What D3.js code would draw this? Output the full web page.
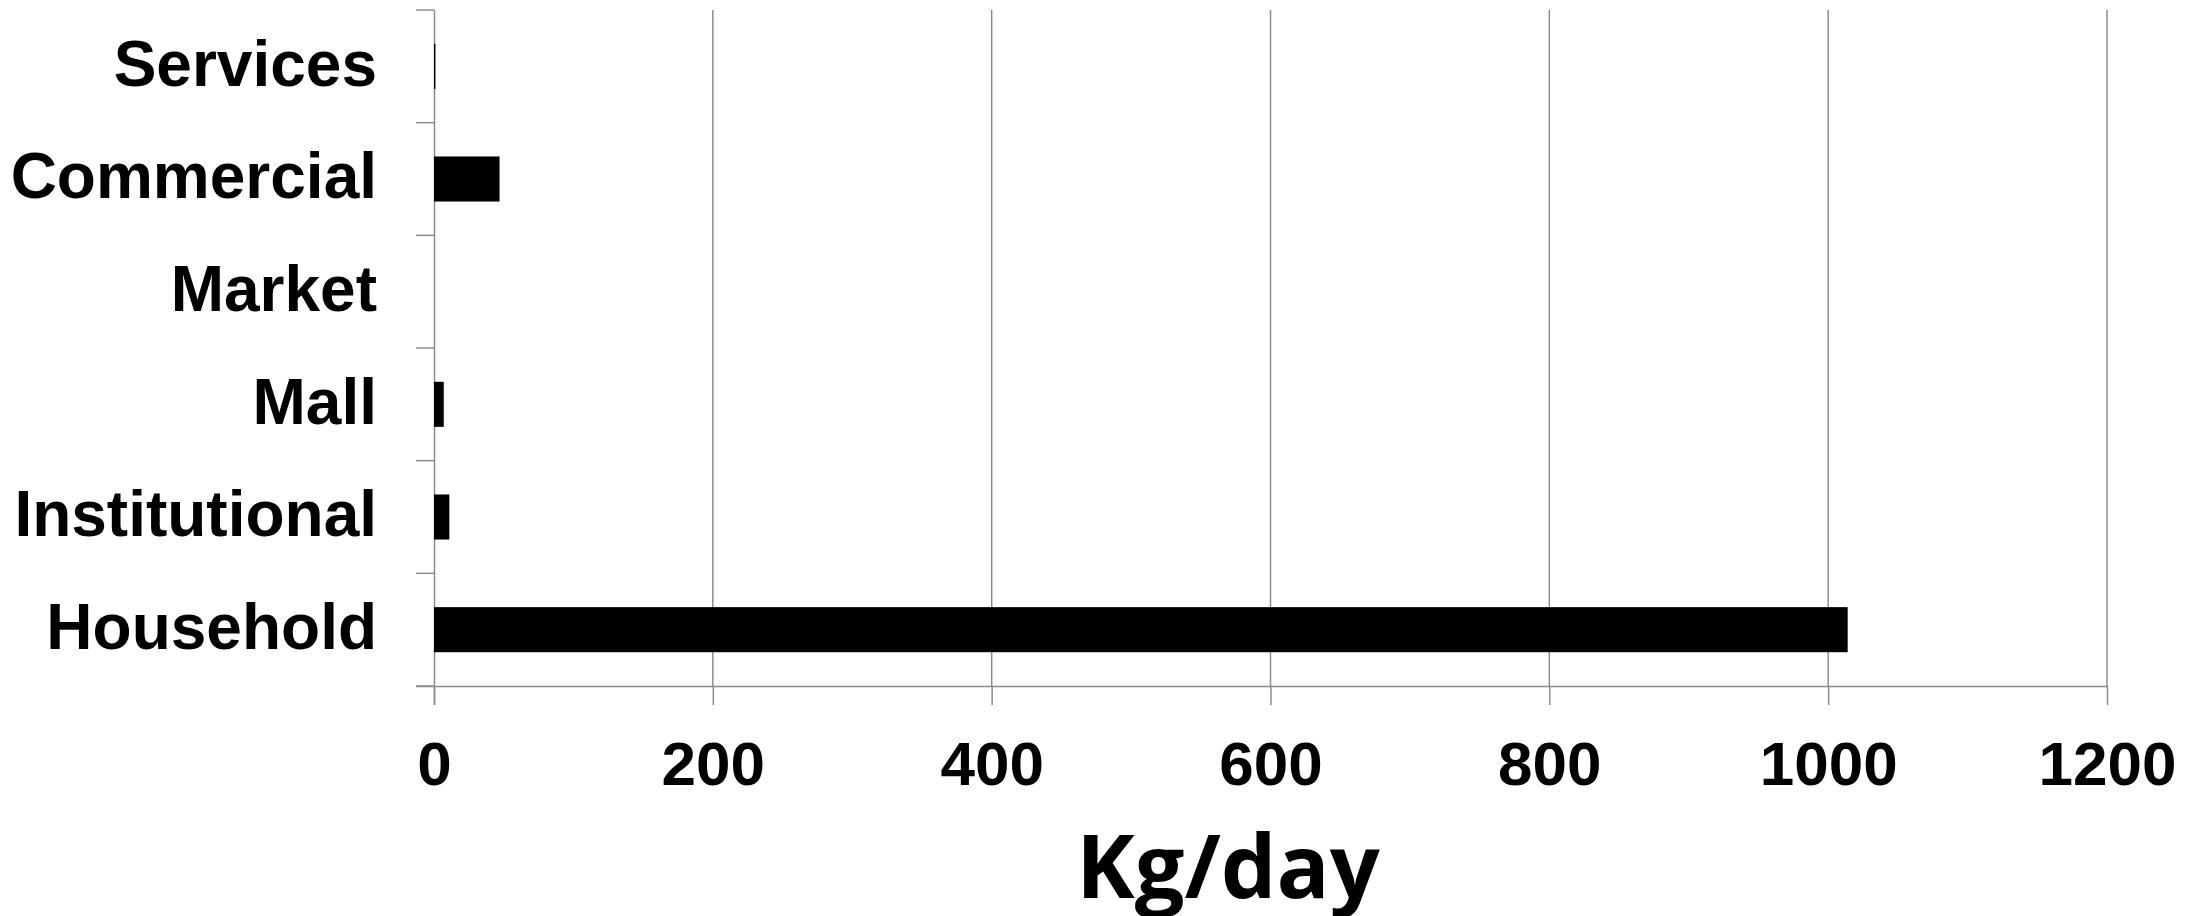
<!DOCTYPE html>
<html>
<head>
  <script src="https://d3js.org/d3.v7.min.js"></script>
  <title>Kg/day by source</title>
  <style>
    body { margin: 0; background: #fff; }
    .lbl { font-family: "Liberation Sans", Arial, sans-serif; font-weight: bold; font-size: 62px; fill: #000; }
    .cat { font-size: 64px; }
  </style>
</head>
<body>
  <div id="myDiv"></div>
  <script>
    // categories top -> bottom, and their values (kg/day)
    const categories = ["Services", "Commercial", "Market", "Mall", "Institutional", "Household"];
    const values = [1, 47, 0, 7, 11, 1014];
    const xTicks = [0, 200, 400, 600, 800, 1000, 1200];
    const axisTitle = "Kg/day";

    const W = 2208, H = 916;
    const plotLeft = 434, plotRight = 2107, plotTop = 10, plotBottom = 686;
    const gridColor = "#8c8c8c";

    const svg = d3.select("#myDiv")
      .append("svg")
        .attr("width", W)
        .attr("height", H);

    const x = d3.scaleLinear()
      .domain([0, 1200])
      .range([plotLeft, plotRight]);

    const y = d3.scaleBand()
      .domain(categories)
      .range([plotTop, plotBottom])
      .paddingInner(0.6)
      .paddingOuter(0.3);

    // vertical gridlines
    svg.append("g")
      .selectAll("line")
      .data(xTicks.slice(1))
      .join("line")
        .attr("x1", d => x(d)).attr("x2", d => x(d))
        .attr("y1", plotTop).attr("y2", plotBottom)
        .attr("stroke", gridColor)
        .attr("stroke-width", 1.5);

    // bottom axis
    const xAxis = svg.append("g")
      .attr("transform", `translate(0,${plotBottom})`)
      .call(d3.axisBottom(x).tickValues(xTicks).tickFormat(d3.format("d")).tickSize(19).tickSizeOuter(0));
    xAxis.select(".domain")
      .attr("d", `M${plotLeft - 18},0.5H${plotRight}`)
      .attr("stroke", gridColor).attr("stroke-width", 1.5);
    xAxis.selectAll(".tick line").attr("stroke", gridColor).attr("stroke-width", 1.5);
    xAxis.selectAll(".tick text").attr("class", "lbl")
      .attr("y", 99).attr("dy", null);

    // left axis (labels only), boundary ticks drawn separately
    const yAxis = svg.append("g")
      .attr("transform", `translate(${plotLeft},0)`)
      .call(d3.axisLeft(y).tickSize(0).tickPadding(57));
    yAxis.select(".domain")
      .attr("d", `M0.5,${plotTop}V${plotBottom + 19}`)
      .attr("stroke", gridColor).attr("stroke-width", 1.5);
    yAxis.selectAll(".tick text").attr("class", "lbl cat").attr("dy", "0.3em");

    const half = (y.step() - y.bandwidth()) / 2;
    const bounds = categories.map(d => y(d) - half)
      .concat([y(categories[categories.length - 1]) + y.bandwidth() + half]);
    svg.append("g")
      .selectAll("line")
      .data(bounds)
      .join("line")
        .attr("x1", plotLeft - 18).attr("x2", plotLeft)
        .attr("y1", d => d).attr("y2", d => d)
        .attr("stroke", gridColor)
        .attr("stroke-width", 1.5);

    // bars (drawn over the axis line)
    svg.append("g")
      .selectAll("rect")
      .data(categories)
      .join("rect")
        .attr("x", x(0))
        .attr("y", d => y(d))
        .attr("width", (d, i) => x(values[i]) - x(0))
        .attr("height", y.bandwidth())
        .attr("fill", "#000");

    // axis title
    svg.append("text")
      .attr("x", 1228)
      .attr("y", 898)
      .attr("text-anchor", "middle")
      .style("font-family", "'Open Sans', sans-serif")
      .style("font-weight", "bold")
      .style("font-size", "88px")
      .text(axisTitle);
  </script>
</body>
</html>
